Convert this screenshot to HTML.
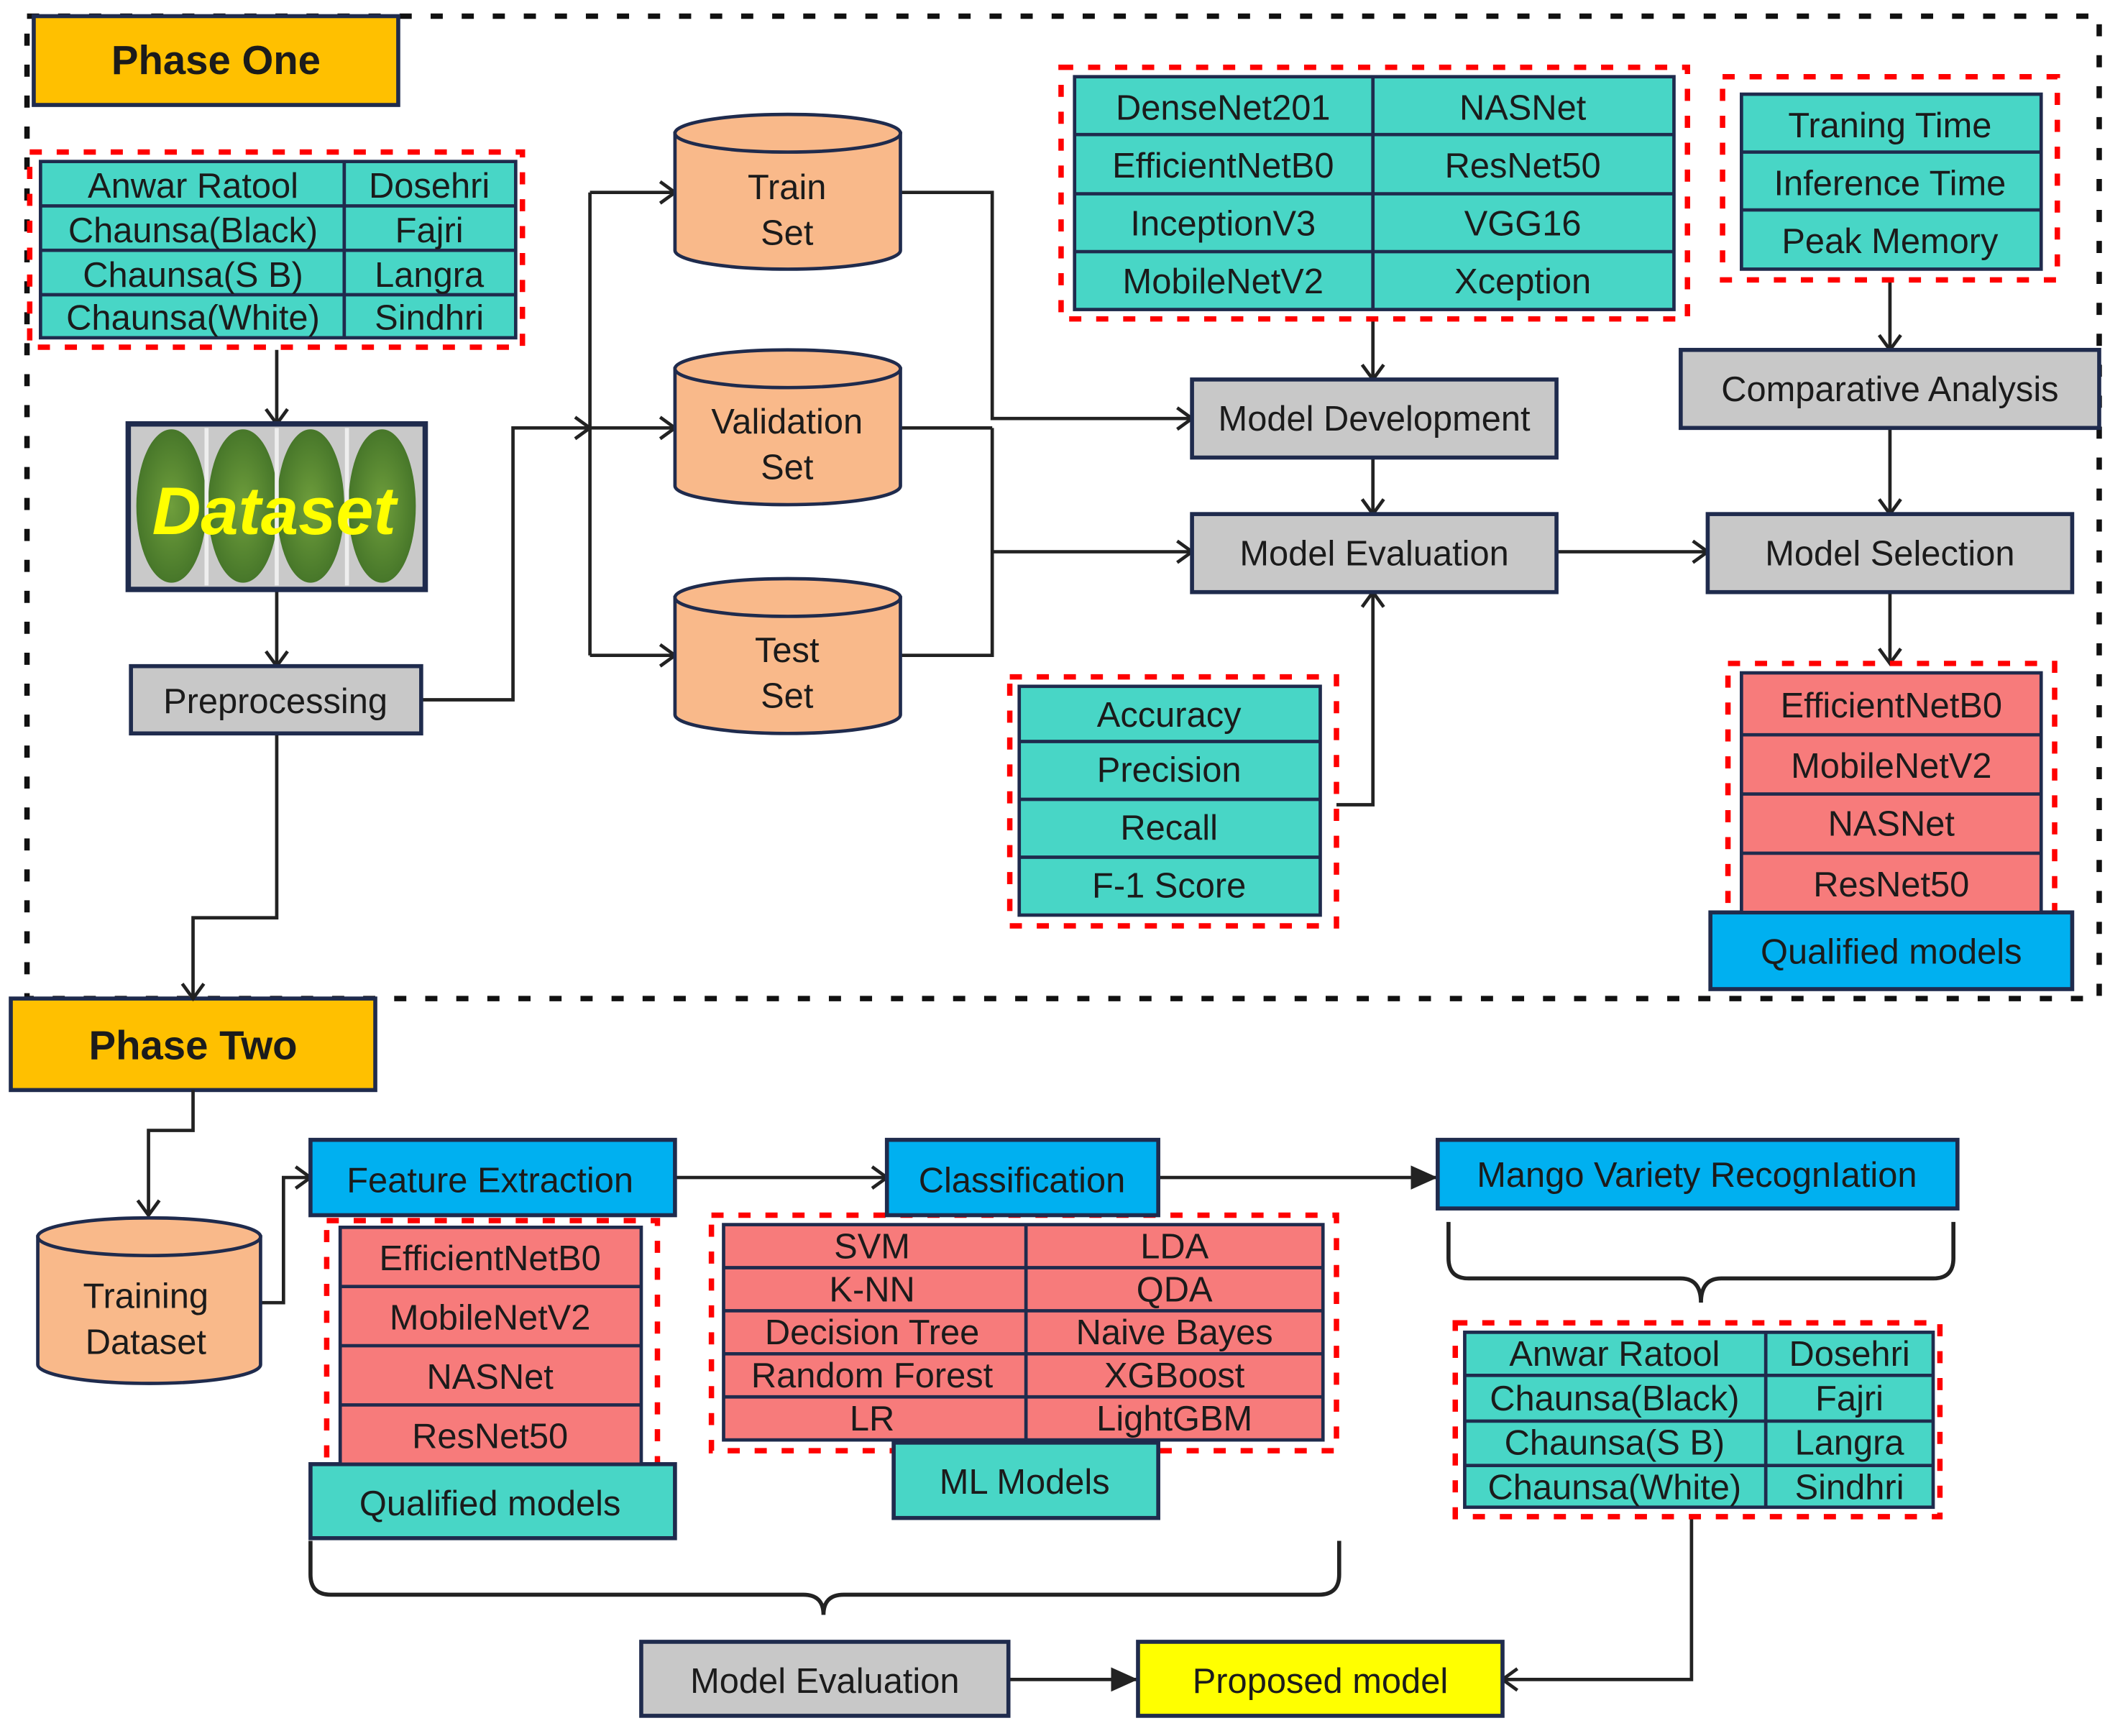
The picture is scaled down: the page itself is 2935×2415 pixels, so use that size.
<!DOCTYPE html>
<html><head><meta charset="utf-8"><style>
html,body{margin:0;padding:0;background:#fff;}
svg{display:block;}
text{font-family:"Liberation Sans",Arial,sans-serif;fill:#1b1b1b;}
</style></head><body>
<svg width="2935" height="2415" viewBox="0 0 1563 1290" preserveAspectRatio="none" xmlns="http://www.w3.org/2000/svg">
<defs>
<marker id="o" markerWidth="20" markerHeight="20" refX="15" refY="10" orient="auto" markerUnits="userSpaceOnUse">
<path d="M4,2 L15,10 L4,18" fill="none" stroke="#222" stroke-width="2.5"/></marker>
<marker id="f" markerWidth="22" markerHeight="22" refX="20" refY="11" orient="auto" markerUnits="userSpaceOnUse">
<path d="M0,2 L20,11 L0,20 Z" fill="#222"/></marker>
<radialGradient id="mg" cx="50%" cy="50%" r="60%"><stop offset="0" stop-color="#6f9e3c"/><stop offset="1" stop-color="#3f6f26"/></radialGradient>
</defs>
<rect width="1563" height="1290" fill="#fff"/>
<!-- outer dashed -->
<path d="M20,12 H1555 V742 H20 Z" fill="none" stroke="#111" stroke-width="4" stroke-dasharray="9,14"/>
<g stroke="#1f2b4d" stroke-width="3">
<rect x="25" y="12" width="270" height="66" fill="#FFC000"/>
<rect x="8" y="742" width="270" height="68" fill="#FFC000"/>
</g>
<text x="160" y="55" font-size="30" font-weight="bold" text-anchor="middle">Phase One</text>
<text x="143" y="787" font-size="30" font-weight="bold" text-anchor="middle">Phase Two</text>

<g fill="none" stroke="#222" stroke-width="2.5">
<!-- phase one connectors -->
<path d="M205,260 V315" marker-end="url(#o)"/>
<path d="M205,438 V495" marker-end="url(#o)"/>
<path d="M312,520 H380 V318 H437" marker-end="url(#o)"/>
<path d="M437,143 V487"/>
<path d="M437,143 H500" marker-end="url(#o)"/>
<path d="M437,318 H500" marker-end="url(#o)"/>
<path d="M437,487 H500" marker-end="url(#o)"/>
<path d="M667,143 H735 V311 H883" marker-end="url(#o)"/>
<path d="M667,318 H735 M667,487 H735 V318"/>
<path d="M735,410 H883" marker-end="url(#o)"/>
<path d="M1017,237 V282" marker-end="url(#o)"/>
<path d="M1017,340 V382" marker-end="url(#o)"/>
<path d="M990,598 H1017 V440" marker-end="url(#o)"/>
<path d="M1153,410 H1265" marker-end="url(#o)"/>
<path d="M1400,208 V260" marker-end="url(#o)"/>
<path d="M1400,318 V382" marker-end="url(#o)"/>
<path d="M1400,440 V493" marker-end="url(#o)"/>
<!-- phase two -->
<path d="M205,545 V682 H143 V742" marker-end="url(#o)"/>
<path d="M143,810 V840 H110 V903" marker-end="url(#o)"/>
<path d="M193,968 H210 V875 H230" marker-end="url(#o)"/>
<path d="M500,875 H657" marker-end="url(#o)"/>
<path d="M858,875 H1065" marker-end="url(#f)"/>
<path d="M747,1248 H843" marker-end="url(#f)"/>
<path d="M1253,1127 V1248 H1113" marker-end="url(#o)"/>
<path d="M230,1145 V1170 Q230,1185 245,1185 H595 Q610,1185 610,1200 Q610,1185 625,1185 H977 Q992,1185 992,1170 V1145" stroke-width="3"/>
<path d="M1073,908 V935 Q1073,950 1088,950 H1245 Q1260,950 1260,968 Q1260,950 1275,950 H1432 Q1447,950 1447,935 V908" stroke-width="3"/>
</g>

<!-- red dashed groups -->
<g fill="none" stroke="#f00" stroke-width="4" stroke-dasharray="9,11">
<rect x="22" y="113" width="365" height="145"/>
<rect x="786" y="50" width="464" height="187"/>
<rect x="1276" y="57" width="248" height="151"/>
<rect x="748" y="503" width="242" height="185"/>
<rect x="1280" y="493" width="242" height="187"/>
<rect x="242" y="907" width="245" height="183"/>
<rect x="527" y="903" width="463" height="175"/>
<rect x="1078" y="983" width="359" height="144"/>
</g>

<!-- boxes -->
<g stroke="#1f2b4d" stroke-width="3">
<rect x="97" y="495" width="215" height="50" fill="#C8C8C8"/>
<rect x="883" y="282" width="270" height="58" fill="#C8C8C8"/>
<rect x="883" y="382" width="270" height="58" fill="#C8C8C8"/>
<rect x="1245" y="260" width="310" height="58" fill="#C8C8C8"/>
<rect x="1265" y="382" width="270" height="58" fill="#C8C8C8"/>
<rect x="1267" y="678" width="268" height="57" fill="#00B0F0"/>
<rect x="230" y="847" width="270" height="56" fill="#00B0F0"/>
<rect x="657" y="847" width="201" height="56" fill="#00B0F0"/>
<rect x="1065" y="847" width="385" height="51" fill="#00B0F0"/>
<rect x="230" y="1088" width="270" height="55" fill="#48D6C6"/>
<rect x="662" y="1072" width="196" height="56" fill="#48D6C6"/>
<rect x="475" y="1220" width="272" height="55" fill="#C8C8C8"/>
<rect x="843" y="1220" width="270" height="55" fill="#FFFF00"/>
</g>
<g font-size="26" text-anchor="middle">
<text x="204" y="530">Preprocessing</text>
<text x="1018" y="320">Model Development</text>
<text x="1018" y="420">Model Evaluation</text>
<text x="1400" y="298">Comparative Analysis</text>
<text x="1400" y="420">Model Selection</text>
<text x="1401" y="716">Qualified models</text>
<text x="363" y="886">Feature Extraction</text>
<text x="757" y="886">Classification</text>
<text x="1257" y="882">Mango Variety RecognIation</text>
<text x="363" y="1126">Qualified models</text>
<text x="759" y="1110">ML Models</text>
<text x="611" y="1258">Model Evaluation</text>
<text x="978" y="1258">Proposed model</text>
</g>

<!-- cylinders -->
<g stroke="#1f2b4d" stroke-width="2.5" fill="#F9B98A">
<path d="M500,99 V186 A83.5,14 0 0 0 667,186 V99 Z"/><ellipse cx="583.5" cy="99" rx="83.5" ry="14"/>
<path d="M500,274 V361 A83.5,14 0 0 0 667,361 V274 Z"/><ellipse cx="583.5" cy="274" rx="83.5" ry="14"/>
<path d="M500,444 V531 A83.5,14 0 0 0 667,531 V444 Z"/><ellipse cx="583.5" cy="444" rx="83.5" ry="14"/>
<path d="M28,919 V1014 A82.5,14 0 0 0 193,1014 V919 Z"/><ellipse cx="110.5" cy="919" rx="82.5" ry="14"/>
</g>
<g font-size="26" text-anchor="middle">
<text x="583" y="148">Train</text><text x="583" y="182">Set</text>
<text x="583" y="322">Validation</text><text x="583" y="356">Set</text>
<text x="583" y="492">Test</text><text x="583" y="526">Set</text>
<text x="108" y="972">Training</text><text x="108" y="1006">Dataset</text>
</g>

<!-- dataset image -->
<rect x="95" y="315" width="220" height="123" fill="#c9c9c9" stroke="#1f2b4d" stroke-width="4"/>
<g fill="url(#mg)">
<ellipse cx="127" cy="376" rx="26" ry="57"/>
<ellipse cx="180" cy="376" rx="26" ry="57"/>
<ellipse cx="230" cy="376" rx="25" ry="57"/>
<ellipse cx="283" cy="376" rx="25" ry="57"/>
</g>
<g stroke="#eee" stroke-width="3"><line x1="153" y1="318" x2="153" y2="435"/><line x1="205" y1="318" x2="205" y2="435"/><line x1="257" y1="318" x2="257" y2="435"/></g>
<text x="203" y="397" font-size="50" font-weight="bold" font-style="italic" text-anchor="middle" style="fill:#ffff00">Dataset</text>

<!-- tables -->
<g stroke="#1f2b4d" stroke-width="2.5">
<!-- varieties 1 -->
<rect x="30" y="120" width="352" height="131" fill="#48D6C6"/>
<path d="M30,153 H382 M30,186 H382 M30,219 H382 M255,120 V251" fill="none"/>
<!-- models -->
<rect x="796" y="57" width="444" height="173" fill="#48D6C6"/>
<path d="M796,100 H1240 M796,144 H1240 M796,187 H1240 M1017,57 V230" fill="none"/>
<!-- timing -->
<rect x="1290" y="70" width="222" height="130" fill="#48D6C6"/>
<path d="M1290,113 H1512 M1290,156 H1512" fill="none"/>
<!-- metrics -->
<rect x="755" y="510" width="223" height="170" fill="#48D6C6"/>
<path d="M755,551 H978 M755,594 H978 M755,637 H978" fill="none"/>
<!-- selected -->
<rect x="1290" y="500" width="222" height="178" fill="#F77B7B"/>
<path d="M1290,546 H1512 M1290,590 H1512 M1290,634 H1512" fill="none"/>
<!-- feature -->
<rect x="252" y="912" width="223" height="176" fill="#F77B7B"/>
<path d="M252,956 H475 M252,1000 H475 M252,1044 H475" fill="none"/>
<!-- ML -->
<rect x="536" y="910" width="444" height="160" fill="#F77B7B"/>
<path d="M536,942 H980 M536,974 H980 M536,1006 H980 M536,1038 H980 M760,910 V1070" fill="none"/>
<!-- varieties 2 -->
<rect x="1085" y="990" width="347" height="130" fill="#48D6C6"/>
<path d="M1085,1022 H1432 M1085,1056 H1432 M1085,1089 H1432 M1308,990 V1120" fill="none"/>
</g>
<g font-size="26" text-anchor="middle">
<text x="143" y="147">Anwar Ratool</text><text x="318" y="147">Dosehri</text>
<text x="143" y="180">Chaunsa(Black)</text><text x="318" y="180">Fajri</text>
<text x="143" y="213">Chaunsa(S  B)</text><text x="318" y="213">Langra</text>
<text x="143" y="245">Chaunsa(White)</text><text x="318" y="245">Sindhri</text>

<text x="906" y="89">DenseNet201</text><text x="1128" y="89">NASNet</text>
<text x="906" y="132">EfficientNetB0</text><text x="1128" y="132">ResNet50</text>
<text x="906" y="175">InceptionV3</text><text x="1128" y="175">VGG16</text>
<text x="906" y="218">MobileNetV2</text><text x="1128" y="218">Xception</text>

<text x="1400" y="102">Traning Time</text>
<text x="1400" y="145">Inference Time</text>
<text x="1400" y="188">Peak Memory</text>

<text x="866" y="540">Accuracy</text>
<text x="866" y="581">Precision</text>
<text x="866" y="624">Recall</text>
<text x="866" y="667">F-1 Score</text>

<text x="1401" y="533">EfficientNetB0</text>
<text x="1401" y="578">MobileNetV2</text>
<text x="1401" y="621">NASNet</text>
<text x="1401" y="666">ResNet50</text>

<text x="363" y="944">EfficientNetB0</text>
<text x="363" y="988">MobileNetV2</text>
<text x="363" y="1032">NASNet</text>
<text x="363" y="1076">ResNet50</text>

<text x="646" y="935">SVM</text><text x="870" y="935">LDA</text>
<text x="646" y="967">K-NN</text><text x="870" y="967">QDA</text>
<text x="646" y="999">Decision Tree</text><text x="870" y="999">Naive Bayes</text>
<text x="646" y="1031">Random Forest</text><text x="870" y="1031">XGBoost</text>
<text x="646" y="1063">LR</text><text x="870" y="1063">LightGBM</text>

<text x="1196" y="1015">Anwar Ratool</text><text x="1370" y="1015">Dosehri</text>
<text x="1196" y="1048">Chaunsa(Black)</text><text x="1370" y="1048">Fajri</text>
<text x="1196" y="1081">Chaunsa(S  B)</text><text x="1370" y="1081">Langra</text>
<text x="1196" y="1114">Chaunsa(White)</text><text x="1370" y="1114">Sindhri</text>
</g>
</svg>
</body></html>
